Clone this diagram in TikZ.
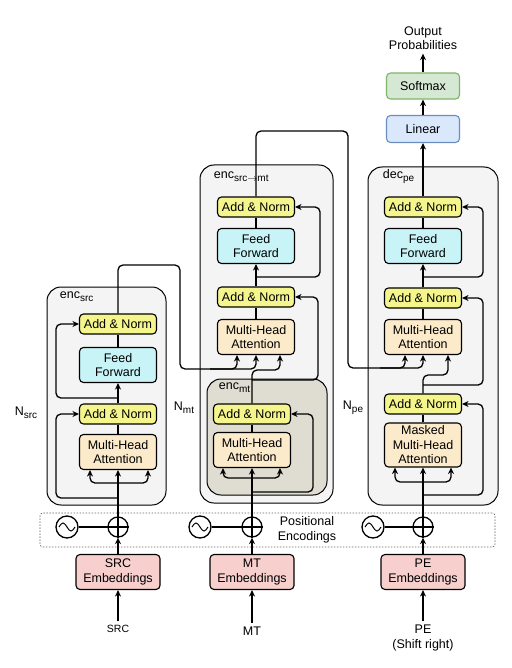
\documentclass[tikz,border=0pt]{standalone}
\usepackage{fontspec}
\setmainfont{Liberation Sans}
\usetikzlibrary{arrows.meta}
\definecolor{anfill}{HTML}{F4F58C}
\definecolor{fffill}{HTML}{C8F4F8}
\definecolor{attfill}{HTML}{FCEBCB}
\definecolor{embfill}{HTML}{F7CFCD}
\definecolor{linfill}{HTML}{DAE8FC}
\definecolor{linline}{HTML}{6C8EBF}
\definecolor{smfill}{HTML}{D5E8D4}
\definecolor{smline}{HTML}{82B366}
\definecolor{boxfill}{HTML}{F4F4F4}
\definecolor{mtfill}{HTML}{DFDDD2}
\newcommand{\lsub}[1]{\raisebox{-3pt}{\fontsize{10}{11}\selectfont #1}}

\begin{document}
\begin{tikzpicture}[x=1pt, y=-1pt, line width=1.3pt, >={Stealth[length=6.5pt,width=6pt]},
    font=\fontsize{12.5}{14.5}\selectfont,
    blk/.style={draw, line width=1.1pt, rounded corners=4pt, align=center, minimum width=77pt, inner sep=1pt},
    addnorm/.style={blk, fill=anfill, minimum height=20pt},
    ffwd/.style={blk, fill=fffill, minimum height=35pt},
    attn/.style={blk, fill=attfill, minimum height=35pt},
    emb/.style={blk, fill=embfill, minimum width=84pt, minimum height=35pt},
    layerbox/.style={draw, line width=1pt, rounded corners=14pt, fill=boxfill},
    pecircle/.style={draw, circle, minimum size=22pt, inner sep=0pt},
    sum/.style={draw, circle, minimum size=20pt, inner sep=0pt},
    rc/.style={rounded corners=5pt}]
    \useasboundingbox (0,0) rectangle (511,668);

    % layer boxes
    \node[layerbox, minimum width=119pt, minimum height=218pt] (encsrc) at (106.5,396) {};
    \node[layerbox, minimum width=133pt, minimum height=338pt] (encsrcmt) at (266.5,334) {};
    \node[layerbox, fill=mtfill, minimum width=120pt, minimum height=116pt] (encmt) at (267,437) {};
    \node[layerbox, minimum width=130pt, minimum height=338pt] (decpe) at (433,336) {};
    \node[anchor=west] at (56,297) {enc\lsub{src}};
    \node[anchor=west] at (210,177) {enc\lsub{src$\rightarrow$mt}};
    \node[anchor=west] at (215,388) {enc\lsub{mt}};
    \node[anchor=west] at (379,177) {dec\lsub{pe}};
    \node (nsrc) at (26,413) {N\lsub{src}};
    \node (nmt) at (184,408) {N\lsub{mt}};
    \node (npe) at (353,408) {N\lsub{pe}};

    % positional encodings
    \node[draw, line width=0.7pt, dash pattern=on 1.5pt off 1.5pt, black!60, rounded corners=3pt, minimum width=455pt, minimum height=34pt] (posenc) at (267.5,530) {};
    \node[align=center] (postext) at (307,530) {Positional\\Encodings};
    \node[pecircle] (srcS) at (67,527) {};
    \node[pecircle] (mtS) at (200,527) {};
    \node[pecircle] (peS) at (373,527) {};
    \node[sum] (srcP) at (118,527) {};
    \node[sum] (mtP) at (252,527) {};
    \node[sum] (peP) at (423,527) {};
    \foreach \s in {srcS,mtS,peS}
        \draw[line width=1pt] (\s.center) ++(-8,0) sin ++(4,-4) cos ++(4,4) sin ++(4,4) cos ++(4,-4);
    \foreach \p in {srcP,mtP,peP}
        \draw (\p.north) -- (\p.south) (\p.west) -- (\p.east);
    \draw (srcS) -- (srcP);
    \draw (mtS) -- (mtP);
    \draw (peS) -- (peP);

    % embeddings and inputs
    \node[emb] (srcEmb) at (118,572) {SRC\\Embeddings};
    \node[emb] (mtEmb) at (252,572) {MT\\Embeddings};
    \node[emb] (peEmb) at (423,572) {PE\\Embeddings};
    \node[font=\fontsize{10.5}{12}\selectfont] (srcIn) at (118,629) {SRC};
    \node (mtIn) at (252,631) {MT};
    \node[align=center] (peIn) at (423,638) {PE\\(Shift right)};
    \draw[->] (srcIn) -- (srcEmb);
    \draw[->] (mtIn) -- (mtEmb);
    \draw[->] (peIn) -- (peEmb);
    \draw[->] (srcEmb) -- (srcP);
    \draw[->] (mtEmb) -- (mtP);
    \draw[->] (peEmb) -- (peP);

    % enc_src
    \node[addnorm] (srcAN2) at (118,324) {Add \& Norm};
    \node[ffwd] (srcFF) at (118,365) {Feed\\Forward};
    \node[addnorm] (srcAN1) at (118,414) {Add \& Norm};
    \node[attn] (srcMHA) at (118,452) {Multi-Head\\Attention};
    \coordinate (srcSplit) at (118,483);
    \coordinate (srcRes1) at (118,498);
    \coordinate (srcRes2) at (118,398);
    \draw[rc] (srcP.north) -- (srcSplit);
    \draw[->, rc] (srcSplit) -| ([xshift=-28]srcMHA.south);
    \draw[->, rc] (srcSplit) -| ([xshift=30]srcMHA.south);
    \draw[->] (srcSplit) -- (srcMHA.south);
    \draw[->, rc] (srcRes1) -| ([xshift=-23]srcAN1.west) -- (srcAN1.west);
    \draw (srcMHA) -- (srcAN1);
    \draw[->] (srcAN1) -- (srcFF);
    \draw (srcFF) -- (srcAN2);
    \draw[->, rc] (srcRes2) -| ([xshift=-23]srcAN2.west) -- (srcAN2.west);

    % enc_mt
    \node[addnorm] (mtAN0) at (252,414) {Add \& Norm};
    \node[attn] (mtMHA0) at (252,450) {Multi-Head\\Attention};
    \coordinate (mtSplit) at (252,478);
    \coordinate (mtRes0) at (252,492);
    \draw (mtP.north) -- (mtSplit);
    \draw[->, rc] (mtSplit) -| ([xshift=-29]mtMHA0.south);
    \draw[->, rc] (mtSplit) -| ([xshift=28]mtMHA0.south);
    \draw[->] (mtSplit) -- (mtMHA0.south);
    \draw[->, rc] (mtRes0) -| ([xshift=22]mtAN0.east) -- (mtAN0.east);
    \draw (mtMHA0) -- (mtAN0);

    % enc_src->mt
    \node[addnorm] (mtAN2) at (256,207) {Add \& Norm};
    \node[ffwd] (mtFF) at (256,246) {Feed\\Forward};
    \node[addnorm] (mtAN1) at (256,297) {Add \& Norm};
    \node[attn] (mtMHA) at (256,337) {Multi-Head\\Attention};
    \coordinate (mtRes1) at (252,380);
    \coordinate (mtRes2) at (256,277);
    \draw[->, rc] (srcAN2.north) |- (180,265) |- (237,369) -- ([xshift=-19]mtMHA.south);
    \draw[->, rc] (210,369) -| (mtMHA.south);
    \draw[->, rc] (mtAN0.north) |- (280,370) -- ([xshift=24]mtMHA.south);
    \draw[->, rc] (mtRes1) -| ([xshift=23]mtAN1.east) -- (mtAN1.east);
    \draw (mtMHA) -- (mtAN1);
    \draw[->] (mtAN1) -- (mtFF);
    \draw (mtFF) -- (mtAN2);
    \draw[->, rc] (mtRes2) -| ([xshift=25]mtAN2.east) -- (mtAN2.east);

    % dec_pe
    \node[addnorm] (peAN2) at (423,207) {Add \& Norm};
    \node[ffwd] (peFF) at (423,246) {Feed\\Forward};
    \node[addnorm] (peAN1) at (423,298) {Add \& Norm};
    \node[attn] (peMHA) at (423,337) {Multi-Head\\Attention};
    \node[addnorm] (peAN0) at (423,404) {Add \& Norm};
    \node[attn, minimum height=44pt] (peMMHA) at (423,445) {Masked\\Multi-Head\\Attention};
    \coordinate (peSplit) at (423,482);
    \coordinate (peRes0) at (423,495);
    \coordinate (peRes1) at (423,385);
    \coordinate (peRes2) at (423,277);
    \draw (peP.north) -- (peSplit);
    \draw[->, rc] (peSplit) -| ([xshift=-28]peMMHA.south);
    \draw[->, rc] (peSplit) -| ([xshift=28]peMMHA.south);
    \draw[->] (peSplit) -- (peMMHA.south);
    \draw[->, rc] (peRes0) -| ([xshift=21]peAN0.east) -- (peAN0.east);
    \draw (peMMHA) -- (peAN0);
    \draw[->, rc] (mtAN2.north) |- (348,131) |- (405,368) -- ([xshift=-18]peMHA.south);
    \draw[->, rc] (380,368) -| (peMHA.south);
    \draw[->, rc] (peAN0.north) |- (448,375) -- ([xshift=25]peMHA.south);
    \draw[->, rc] (peRes1) -| ([xshift=21]peAN1.east) -- (peAN1.east);
    \draw (peMHA) -- (peAN1);
    \draw[->] (peAN1) -- (peFF);
    \draw (peFF) -- (peAN2);
    \draw[->, rc] (peRes2) -| ([xshift=21]peAN2.east) -- (peAN2.east);

    % output
    \node[blk, fill=linfill, draw=linline, minimum width=73pt, minimum height=27pt] (lin) at (423,129) {Linear};
    \node[blk, fill=smfill, draw=smline, minimum width=73pt, minimum height=26pt] (smax) at (423,86) {Softmax};
    \node[align=center] (outP) at (423,38) {Output\\Probabilities};
    \draw[->] (peAN2) -- (lin);
    \draw[->] (lin) -- (smax);
    \draw[->] (smax) -- (outP);
\end{tikzpicture}
\end{document}
